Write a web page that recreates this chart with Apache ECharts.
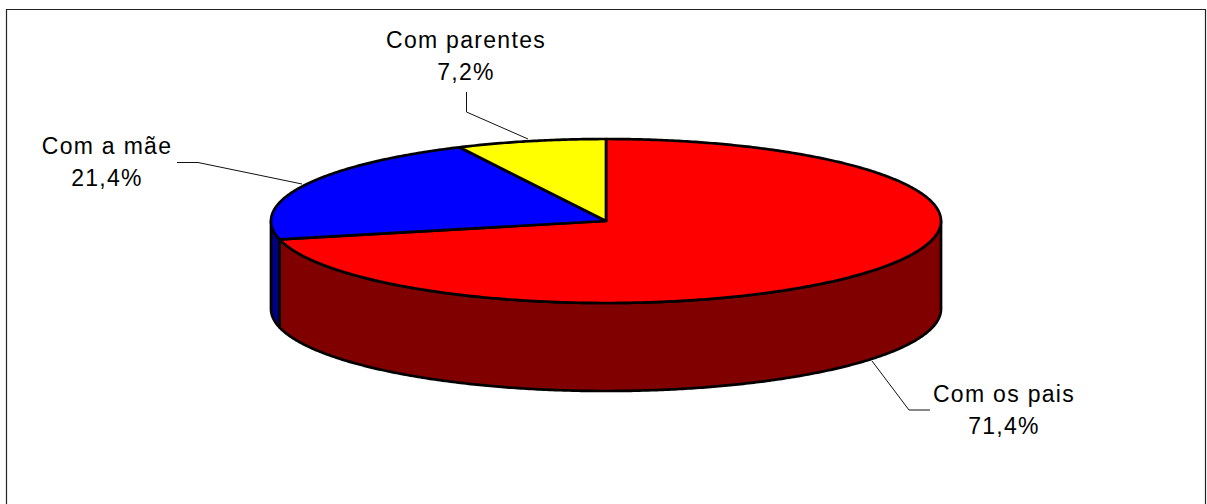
<!DOCTYPE html>
<html>
<head>
<meta charset="utf-8">
<style>
html,body{margin:0;padding:0;background:#fff}
#chart{width:1207px;height:504px}
#chart text{letter-spacing:1.3px}
</style>
<script src="https://cdn.jsdelivr.net/npm/echarts@6/dist/echarts.min.js"></script>
</head>
<body>
<div id="chart"></div>
<script>
const categories = ['Com os pais', 'Com a mãe', 'Com parentes'];
const shares = [71.4, 21.4, 7.2];
const topColors = ['#ff0000', '#0000ff', '#ffff00'];
const wallColors = ['#800000', '#000080', '#808000'];

const pieShape = { cx: 606, cy: 221, rx: 335, ry: 82, depth: 88 };
const labelAnchors = [[1004, 394], [107, 146], [466, 40]];
const leaders = [
  [[872, 361], [909, 410], [930, 410]],
  [[177, 162.5], [198, 162.5], [302, 184]],
  [[466.5, 92], [466.5, 112], [528, 139]]
];

const total = shares.reduce((a, b) => a + b, 0);
const spans = shares.map((v, i) => {
  const start = shares.slice(0, i).reduce((a, b) => a + b, 0) / total * 360;
  return [start, start + v / total * 360];
});
function rim(deg, drop) {
  const t = deg * Math.PI / 180;
  return [pieShape.cx + pieShape.rx * Math.sin(t), pieShape.cy - pieShape.ry * Math.cos(t) + (drop || 0)];
}
function arc(a, b, drop) {
  const pts = [];
  const n = Math.max(2, Math.ceil(Math.abs(b - a) * 2));
  for (let k = 0; k <= n; k++) pts.push(rim(a + (b - a) * k / n, drop));
  return pts;
}
const outline = { stroke: '#000', lineWidth: 2.7, lineJoin: 'round' };

function renderWall(params, api) {
  const i = api.value(0);
  const a = Math.max(spans[i][0], 90), b = Math.min(spans[i][1], 270);
  if (b <= a) return { type: 'group', children: [] };
  const points = arc(a, b, 0).concat(arc(a, b, pieShape.depth).reverse());
  return { type: 'polygon', shape: { points }, style: Object.assign({ fill: wallColors[i] }, outline) };
}
function renderTop(params, api) {
  const i = api.value(0);
  const points = [[pieShape.cx, pieShape.cy]].concat(arc(spans[i][0], spans[i][1], 0));
  return { type: 'polygon', shape: { points }, style: Object.assign({ fill: topColors[i] }, outline) };
}
function renderLabel(params, api) {
  const i = api.value(0);
  const fmt = api.value(1).toFixed(1).replace('.', ',') + '%';
  return {
    type: 'group',
    children: [
      { type: 'polyline', shape: { points: leaders[i] }, style: { stroke: '#111', lineWidth: 1, fill: null } },
      { type: 'text', x: labelAnchors[i][0], y: labelAnchors[i][1],
        style: { text: categories[i], fill: '#000', font: '23px "Liberation Sans"', align: 'center', verticalAlign: 'middle' } },
      { type: 'text', x: labelAnchors[i][0], y: labelAnchors[i][1] + 32,
        style: { text: fmt, fill: '#000', font: '23px "Liberation Sans"', align: 'center', verticalAlign: 'middle' } }
    ]
  };
}
const rows = shares.map((v, i) => [i, v]);
const chart = echarts.init(document.getElementById('chart'), null, { renderer: 'svg' });
chart.setOption({
  animation: false,
  backgroundColor: '#fff',
  graphic: [{ type: 'rect', z: -1, shape: { x: 6.5, y: 9.5, width: 1199, height: 520 }, style: { fill: '#fff', stroke: '#222', lineWidth: 1.2 } }],
  series: [
    { type: 'custom', coordinateSystem: 'none', renderItem: renderLabel, data: rows, z: 1, silent: true },
    { type: 'custom', coordinateSystem: 'none', renderItem: renderWall, data: rows, z: 2, silent: true },
    { type: 'custom', coordinateSystem: 'none', renderItem: renderTop, data: rows, z: 3, silent: true }
  ]
});
</script>
</body>
</html>
